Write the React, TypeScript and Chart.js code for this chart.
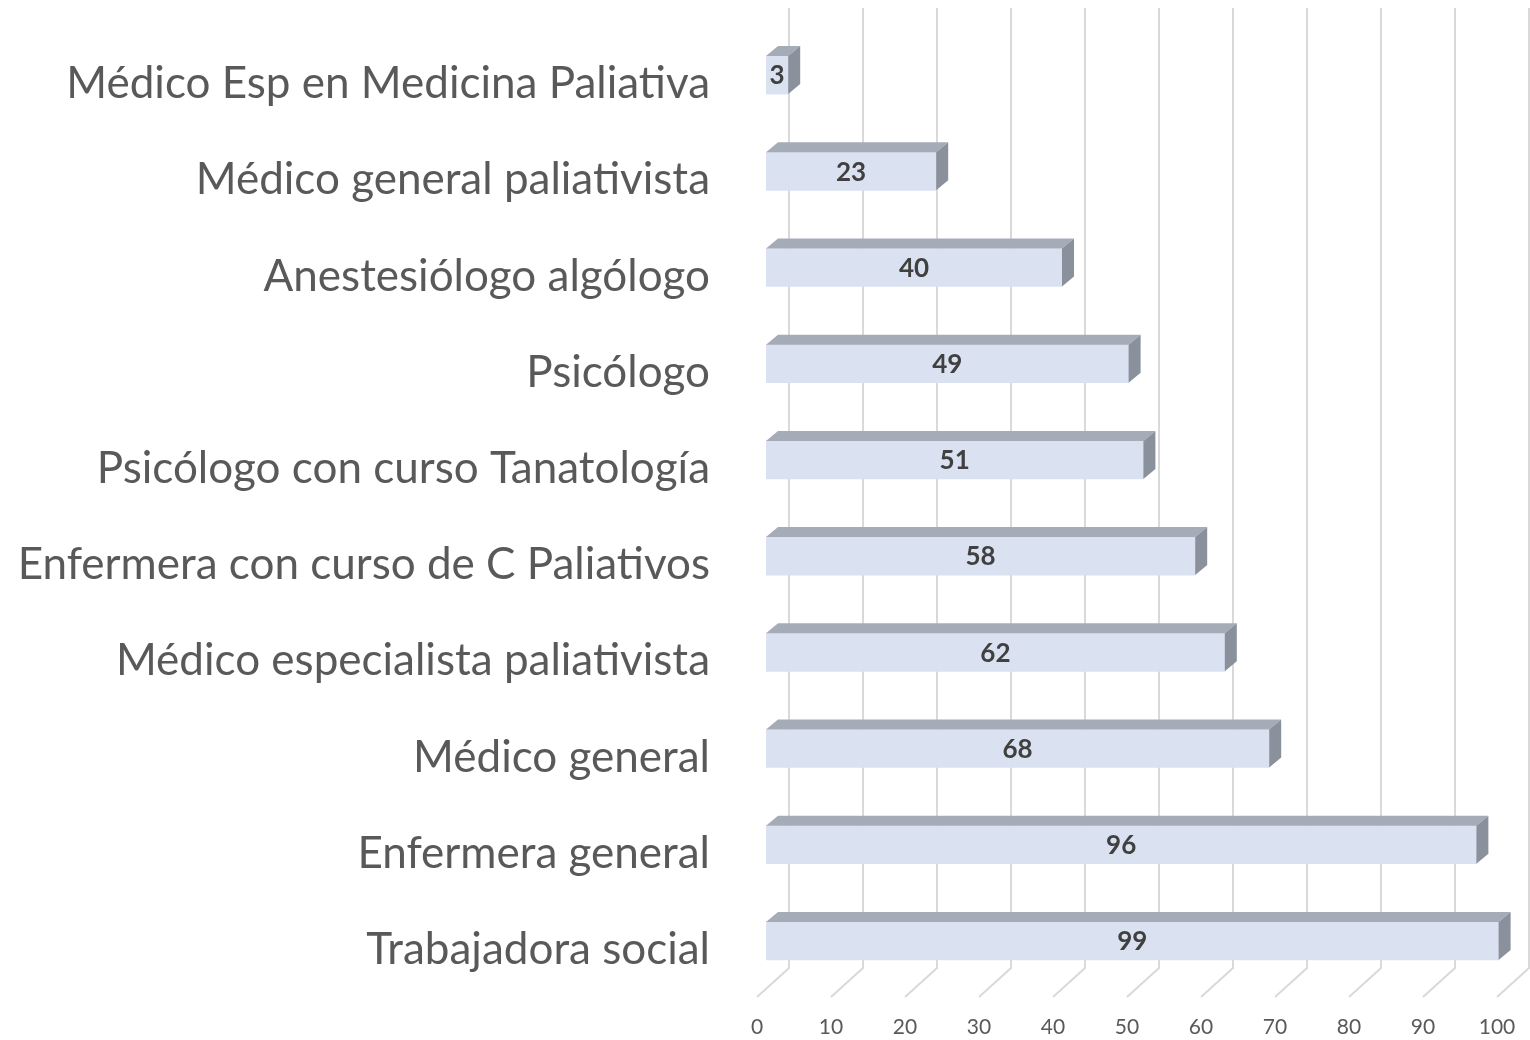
import React, { useEffect, useRef } from "react";
import { Chart, registerables } from "chart.js";

Chart.register(...registerables);

const categories: string[] = [
  "Médico Esp en Medicina Paliativa",
  "Médico general paliativista",
  "Anestesiólogo algólogo",
  "Psicólogo",
  "Psicólogo con curso Tanatología",
  "Enfermera con curso de C Paliativos",
  "Médico especialista paliativista",
  "Médico general",
  "Enfermera general",
  "Trabajadora social",
];

const values: number[] = [3, 23, 40, 49, 51, 58, 62, 68, 96, 99];

const xTicks: number[] = [0, 10, 20, 30, 40, 50, 60, 70, 80, 90, 100];

const FRONT = "#DAE1F1";
const TOP = "#A5ABB7";
const SIDE = "#8A919C";
const GRID = "#D9D9D9";
const DX = 12;
const DY = 10;
const BACK = 23;
const FLOOR_FRONT = -9;

const threeD = {
  id: "threeD",
  beforeDatasetsDraw(chart: any) {
    const ctx = chart.ctx;
    const xs = chart.scales.x;
    const area = chart.chartArea;
    ctx.save();
    ctx.strokeStyle = GRID;
    ctx.lineWidth = 2;
    const wallBottom = area.bottom - 21;
    const floorFront = area.bottom + 8;
    for (const v of xTicks) {
      const x = xs.getPixelForValue(v);
      ctx.beginPath();
      ctx.moveTo(x + BACK, 8);
      ctx.lineTo(x + BACK, wallBottom);
      ctx.lineTo(x + FLOOR_FRONT, floorFront);
      ctx.stroke();
    }
    ctx.restore();
  },
  afterDatasetsDraw(chart: any) {
    const ctx = chart.ctx;
    const meta = chart.getDatasetMeta(0);
    ctx.save();
    meta.data.forEach((bar: any, i: number) => {
      const left = bar.base;
      const right = bar.x;
      const top = bar.y - bar.height / 2;
      const bottom = bar.y + bar.height / 2;
      ctx.fillStyle = TOP;
      ctx.beginPath();
      ctx.moveTo(left, top);
      ctx.lineTo(left + DX, top - DY);
      ctx.lineTo(right + DX, top - DY);
      ctx.lineTo(right, top);
      ctx.closePath();
      ctx.fill();
      ctx.fillStyle = SIDE;
      ctx.beginPath();
      ctx.moveTo(right, top);
      ctx.lineTo(right + DX, top - DY);
      ctx.lineTo(right + DX, bottom - DY);
      ctx.lineTo(right, bottom);
      ctx.closePath();
      ctx.fill();
      ctx.fillStyle = "#404040";
      ctx.font = "bold 26px Lato";
      ctx.textAlign = "center";
      ctx.textBaseline = "middle";
      ctx.fillText(String(values[i]), (left + right) / 2, bar.y + 1);
    });
    ctx.restore();
  },
};

export default function App() {
  const ref = useRef<HTMLCanvasElement>(null);
  useEffect(() => {
    document.body.style.margin = "0";
    const chart = new Chart(ref.current!, {
      type: "bar",
      data: {
        labels: categories,
        datasets: [
          {
            data: values,
            backgroundColor: FRONT,
            borderWidth: 0,
            barThickness: 38,
          },
        ],
      },
      options: {
        indexAxis: "y",
        animation: false,
        responsive: false,
        maintainAspectRatio: false,
        layout: { padding: { top: 27, right: 24, left: 0, bottom: 0 } },
        plugins: { legend: { display: false }, tooltip: { enabled: false } },
        scales: {
          x: {
            min: 0,
            max: 100,
            grid: { display: false, drawTicks: false },
            border: { display: false },
            ticks: {
              stepSize: 10,
              color: "#595959",
              font: { family: "Lato", size: 21 },
              padding: 26,
              labelOffset: -9,
              maxRotation: 0,
              autoSkip: false,
            },
            afterFit: (s: any) => {
              s.height = 51;
              s.paddingLeft = 0;
              s.paddingRight = 0;
            },
          },
          y: {
            grid: { display: false, drawTicks: false },
            border: { display: false },
            ticks: {
              color: "#595959",
              font: { family: "Lato", size: 44 },
              padding: 56,
              labelOffset: 9,
              autoSkip: false,
            },
            afterFit: (s: any) => {
              s.width = 766;
              s.paddingTop = 0;
              s.paddingBottom = 0;
            },
          },
        },
      },
      plugins: [threeD],
    });
    return () => chart.destroy();
  }, []);
  return <canvas ref={ref} width={1530} height={1040} style={{ display: "block" }} />;
}
